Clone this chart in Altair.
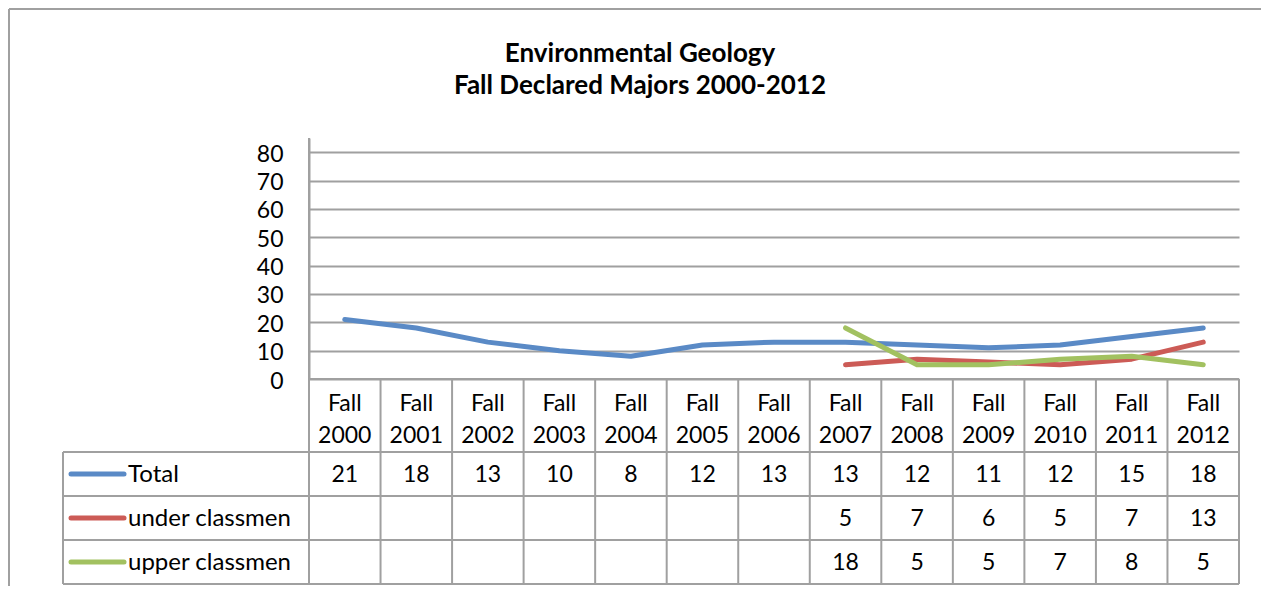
import altair as alt
import pandas as pd

# ---------------- data ----------------
categories = ["Fall 2000", "Fall 2001", "Fall 2002", "Fall 2003", "Fall 2004",
              "Fall 2005", "Fall 2006", "Fall 2007", "Fall 2008", "Fall 2009",
              "Fall 2010", "Fall 2011", "Fall 2012"]
total = [21, 18, 13, 10, 8, 12, 13, 13, 12, 11, 12, 15, 18]
under_classmen = [None, None, None, None, None, None, None, 5, 7, 6, 5, 7, 13]
upper_classmen = [None, None, None, None, None, None, None, 18, 5, 5, 7, 8, 5]
series_names = ["Total", "under classmen", "upper classmen"]
series_colors = ["#5A8AC6", "#CC5B56", "#A2C160"]
y_ticks = [0, 10, 20, 30, 40, 50, 60, 70, 80]
title_lines = ["Environmental Geology", "Fall Declared Majors 2000-2012"]

# ---------------- layout constants ----------------
W, H = 930, 241
FONT = "Lato"
FS = 23
GRID = "#a0a0a0"
GW = 2
N = len(categories)
half = W / N / 2

x_enc = alt.X("cat:N", scale=alt.Scale(type="point", domain=categories, padding=0.5), axis=None)
y_axis = alt.Axis(values=y_ticks, grid=True, gridColor=GRID, gridWidth=GW,
                  domainColor=GRID, domainWidth=GW, ticks=False,
                  labelFont=FONT, labelFontSize=FS, labelColor="black",
                  labelPadding=26, labelOffset=2, title=None)
y_enc = alt.Y("value:Q", scale=alt.Scale(domain=[0, 85], nice=False, zero=True), axis=y_axis)

one = pd.DataFrame({"k": [0]})
layers = []

# ---------------- series lines ----------------
all_series = [total, under_classmen, upper_classmen]
for name, vals, col in zip(series_names, all_series, series_colors):
    df = pd.DataFrame({"cat": categories, "value": vals}).dropna()
    layers.append(
        alt.Chart(df).mark_line(strokeWidth=5, interpolate="linear",
                                strokeCap="round", strokeJoin="round", color=col)
        .encode(x=x_enc, y=y_enc)
    )

# ---------------- data table ----------------
row_line_y = [314, 358, 402, 446]
row_text_y = [337, 381, 425]

# horizontal table lines
layers.append(alt.Chart(one).mark_rule(color=GRID, strokeWidth=GW)
              .encode(x=alt.value(0), x2=alt.value(W), y=alt.value(H)))
for yy in row_line_y:
    layers.append(alt.Chart(one).mark_rule(color=GRID, strokeWidth=GW)
                  .encode(x=alt.value(-246), x2=alt.value(W), y=alt.value(yy)))
# left of table and axis continuation
layers.append(alt.Chart(one).mark_rule(color=GRID, strokeWidth=GW)
              .encode(x=alt.value(-246), y=alt.value(row_line_y[0]), y2=alt.value(row_line_y[-1])))
layers.append(alt.Chart(one).mark_rule(color=GRID, strokeWidth=GW)
              .encode(x=alt.value(0), y=alt.value(0), y2=alt.value(row_line_y[-1])))
# column boundaries
cat_df = pd.DataFrame({"cat": categories})
layers.append(alt.Chart(cat_df).mark_rule(color=GRID, strokeWidth=GW, xOffset=-half)
              .encode(x=x_enc, y=alt.value(H), y2=alt.value(row_line_y[-1])))
layers.append(alt.Chart(pd.DataFrame({"cat": [categories[-1]]}))
              .mark_rule(color=GRID, strokeWidth=GW, xOffset=half)
              .encode(x=x_enc, y=alt.value(H), y2=alt.value(row_line_y[-1])))

# header labels
hdr = pd.DataFrame({"cat": categories,
                    "l1": [c.split(" ")[0] for c in categories],
                    "l2": [c.split(" ")[1] for c in categories]})
layers.append(alt.Chart(hdr).mark_text(font=FONT, fontSize=FS, color="black", baseline="middle")
              .encode(x=x_enc, y=alt.value(266), text="l1:N"))
layers.append(alt.Chart(hdr).mark_text(font=FONT, fontSize=FS, color="black", baseline="middle")
              .encode(x=x_enc, y=alt.value(298), text="l2:N"))

# values in table + legend keys
for name, vals, col, ty in zip(series_names, all_series, series_colors, row_text_y):
    df = pd.DataFrame({"cat": categories,
                       "txt": ["" if v is None else str(v) for v in vals]})
    layers.append(alt.Chart(df).mark_text(font=FONT, fontSize=FS, color="black", baseline="middle")
                  .encode(x=x_enc, y=alt.value(ty), text="txt:N"))
    layers.append(alt.Chart(one).mark_rule(color=col, strokeWidth=5, strokeCap="round")
                  .encode(x=alt.value(-238), x2=alt.value(-185), y=alt.value(ty - 1)))
    layers.append(alt.Chart(pd.DataFrame({"t": [name]}))
                  .mark_text(font=FONT, fontSize=24, color="black", align="left", baseline="middle")
                  .encode(x=alt.value(-181), y=alt.value(ty), text="t:N"))

# ---------------- title ----------------
for t, ty in zip(title_lines, [-84, -52]):
    layers.append(alt.Chart(pd.DataFrame({"t": [t]}))
                  .mark_text(font=FONT, fontSize=26, fontWeight="bold", color="black",
                             align="center", baseline="middle")
                  .encode(x=alt.value(331), y=alt.value(ty), text="t:N"))

# ---------------- outer frame ----------------
layers.append(alt.Chart(one).mark_rule(color=GRID, strokeWidth=2)
              .encode(x=alt.value(-300), x2=alt.value(W + 40), y=alt.value(-129)))
layers.append(alt.Chart(one).mark_rule(color=GRID, strokeWidth=2)
              .encode(x=alt.value(-300), y=alt.value(-129), y2=alt.value(500)))

chart = (
    alt.layer(*layers)
    .properties(width=W, height=H,
                autosize=alt.AutoSizeParams(type="none"),
                padding={"left": 301, "top": 130, "right": 22, "bottom": 207})
    .configure_view(strokeWidth=0)
)

chart.save("out.html", embed_options={"renderer": "svg", "actions": False})
